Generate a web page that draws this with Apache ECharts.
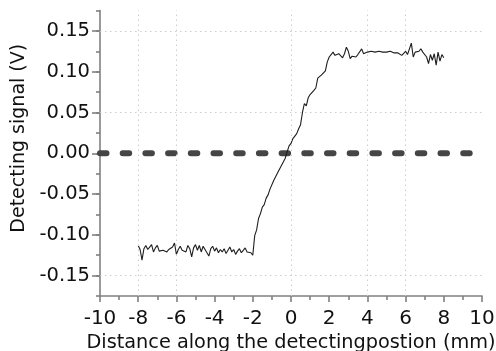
<!DOCTYPE html>
<html>
<head>
<meta charset="utf-8">
<script src="https://cdn.jsdelivr.net/npm/echarts@6/dist/echarts.min.js"></script>
<style>
  html, body { margin: 0; padding: 0; background: #fff; }
  #main { width: 496px; height: 351px; }
</style>
</head>
<body>
<div id="main"></div>
<script>
// distance along detecting position (mm)
const distance = [
  -8.0, -7.9, -7.8, -7.7, -7.6, -7.5, -7.4, -7.3, -7.2, -7.1,
  -7.0, -6.9, -6.8, -6.7, -6.6, -6.5, -6.4, -6.3, -6.2, -6.1,
  -6.0, -5.9, -5.8, -5.7, -5.6, -5.5, -5.4, -5.3, -5.2, -5.1,
  -5.0, -4.9, -4.8, -4.7, -4.6, -4.5, -4.4, -4.3, -4.2, -4.1,
  -4.0, -3.9, -3.8, -3.7, -3.6, -3.5, -3.4, -3.3, -3.2, -3.1,
  -3.0, -2.9, -2.8, -2.7, -2.6, -2.5, -2.4, -2.3, -2.2, -2.1,
  -2.0, -1.9, -1.8, -1.7, -1.6, -1.5, -1.4, -1.3, -1.2, -1.1,
  -1.0, -0.9, -0.8, -0.7, -0.6, -0.5, -0.4, -0.3, -0.2, -0.1,
  0.0, 0.1, 0.2, 0.3, 0.4, 0.5, 0.6, 0.7, 0.8, 0.9,
  1.0, 1.1, 1.2, 1.3, 1.4, 1.5, 1.6, 1.7, 1.8, 1.9,
  2.0, 2.1, 2.2, 2.3, 2.4, 2.5, 2.6, 2.7, 2.8, 2.9,
  3.0, 3.1, 3.2, 3.3, 3.4, 3.5, 3.6, 3.7, 3.8, 3.9,
  4.0, 4.1, 4.2, 4.3, 4.4, 4.5, 4.6, 4.7, 4.8, 4.9,
  5.0, 5.1, 5.2, 5.3, 5.4, 5.5, 5.6, 5.7, 5.8, 5.9,
  6.0, 6.1, 6.2, 6.3, 6.4, 6.5, 6.6, 6.7, 6.8, 6.9,
  7.0, 7.1, 7.2, 7.3, 7.4, 7.5, 7.6, 7.7, 7.8, 7.9,
  8.0
]

// detecting signal (V)
const signal = [
  -0.113, -0.118, -0.131, -0.117, -0.113, -0.118, -0.115, -0.112, -0.121, -0.116,
  -0.113, -0.120, -0.118, -0.119, -0.120, -0.121, -0.118, -0.120, -0.115, -0.110,
  -0.124, -0.118, -0.114, -0.119, -0.117, -0.121, -0.113, -0.117, -0.127, -0.116,
  -0.112, -0.119, -0.113, -0.121, -0.114, -0.118, -0.120, -0.126, -0.117, -0.114,
  -0.120, -0.116, -0.122, -0.118, -0.121, -0.117, -0.123, -0.119, -0.115, -0.121,
  -0.118, -0.124, -0.120, -0.117, -0.122, -0.119, -0.116, -0.121, -0.120, -0.122,
  -0.125, -0.101, -0.094, -0.080, -0.074, -0.066, -0.063, -0.055, -0.051, -0.044,
  -0.042, -0.033, -0.031, -0.024, -0.022, -0.015, -0.013, -0.006, 0.002, 0.009,
  0.012, 0.018, 0.016, 0.024, 0.030, 0.035, 0.050, 0.061, 0.058, 0.068,
  0.072, 0.070, 0.077, 0.080, 0.092, 0.090, 0.096, 0.095, 0.101, 0.112,
  0.118, 0.121, 0.124, 0.120, 0.119, 0.122, 0.121, 0.117, 0.122, 0.130,
  0.125, 0.116, 0.119, 0.120, 0.118, 0.121, 0.122, 0.128, 0.122, 0.120,
  0.124, 0.122, 0.125, 0.123, 0.124, 0.122, 0.125, 0.123, 0.124, 0.123,
  0.124, 0.123, 0.125, 0.124, 0.123, 0.124, 0.123, 0.122, 0.120, 0.122,
  0.125, 0.121, 0.128, 0.135, 0.118, 0.124, 0.123, 0.125, 0.128, 0.124,
  0.123, 0.118, 0.110, 0.121, 0.114, 0.122, 0.108, 0.124, 0.113, 0.121,
  0.117
]

const yLabels = [-0.15, -0.10, -0.05, 0.00, 0.05, 0.10, 0.15]
const gridY = [0.15, 0.05, -0.15]   // faint dotted lines seen in the scan
const gridX = [-8, -6, 0, 4, 6]
const zeroLine = [[-10, 0], [9.7, 0]]

const font = 'DejaVu Sans'

const main = document.getElementById('main')
const myChart = echarts.init(main, null, { renderer: 'canvas' })

const axisLineStyle = { color: '#808080', width: 1.6 }

const option = {
  animation: false,
  backgroundColor: '#fff',
  grid: {
    left: 100,
    right: 14,
    top: 10.5,
    bottom: 55,
    containLabel: false,
    outerBoundsMode: 'none'
  },
  xAxis: {
    type: 'value',
    min: -10,
    max: 10,
    interval: 2,
    name: 'Distance along the detectingpostion (mm)',
    nameLocation: 'middle',
    nameGap: 34,
    nameTextStyle: { fontFamily: font, fontSize: 19.3, color: '#111' },
    axisLine: { show: true, onZero: false, lineStyle: axisLineStyle },
    axisTick: { show: true, inside: false, length: 6, lineStyle: axisLineStyle },
    minorTick: { show: true, splitNumber: 2, length: 4, lineStyle: axisLineStyle },
    splitLine: { show: false },
    axisLabel: {
      margin: 13,
      fontFamily: font,
      fontSize: 20,
      color: '#111'
    }
  },
  yAxis: [
    {
      type: 'value',
      min: -0.175,
      max: 0.175,
      name: 'Detecting signal (V)',
      nameLocation: 'middle',
      nameGap: 68,
      nameTextStyle: { fontFamily: font, fontSize: 19, color: '#111', padding: [0, 0, 0, 30] },
      axisLine: { show: true, onZero: false, lineStyle: axisLineStyle },
      axisTick: { show: true, length: 8, customValues: yLabels, lineStyle: axisLineStyle },
      splitLine: { show: false },
      axisLabel: {
        margin: 10,
        customValues: yLabels,
        fontFamily: font,
        fontSize: 19.5,
        color: '#111',
        formatter: v => v.toFixed(2)
      }
    },
    {
      // minor ticks only
      type: 'value',
      position: 'left',
      min: -0.175,
      max: 0.175,
      interval: 0.025,
      axisLine: { show: false, onZero: false },
      axisTick: { show: true, length: 4, lineStyle: axisLineStyle },
      axisLabel: { show: false },
      splitLine: { show: false }
    }
  ],
  series: [
    {
      name: 'grid',
      type: 'line',
      data: [],
      silent: true,
      markLine: {
        silent: true,
        symbol: 'none',
        label: { show: false },
        lineStyle: { type: [1.5, 3.5], color: '#cdcdcd', width: 1 },
        data: gridY.map(v => ({ yAxis: v })).concat(gridX.map(v => ({ xAxis: v })))
      }
    },
    {
      name: 'zero',
      type: 'line',
      data: zeroLine,
      showSymbol: false,
      silent: true,
      lineStyle: {
        color: '#454545',
        width: 6,
        type: [6.5, 16.2],
        cap: 'round'
      }
    },
    {
      name: 'signal',
      type: 'line',
      data: distance.map((d, i) => [d, signal[i]]),
      showSymbol: false,
      lineStyle: { color: '#1e1e1e', width: 1.1 }
    }
  ]
}

myChart.setOption(option)
window.onresize = function () {
  myChart.resize()
}
</script>
</body>
</html>
